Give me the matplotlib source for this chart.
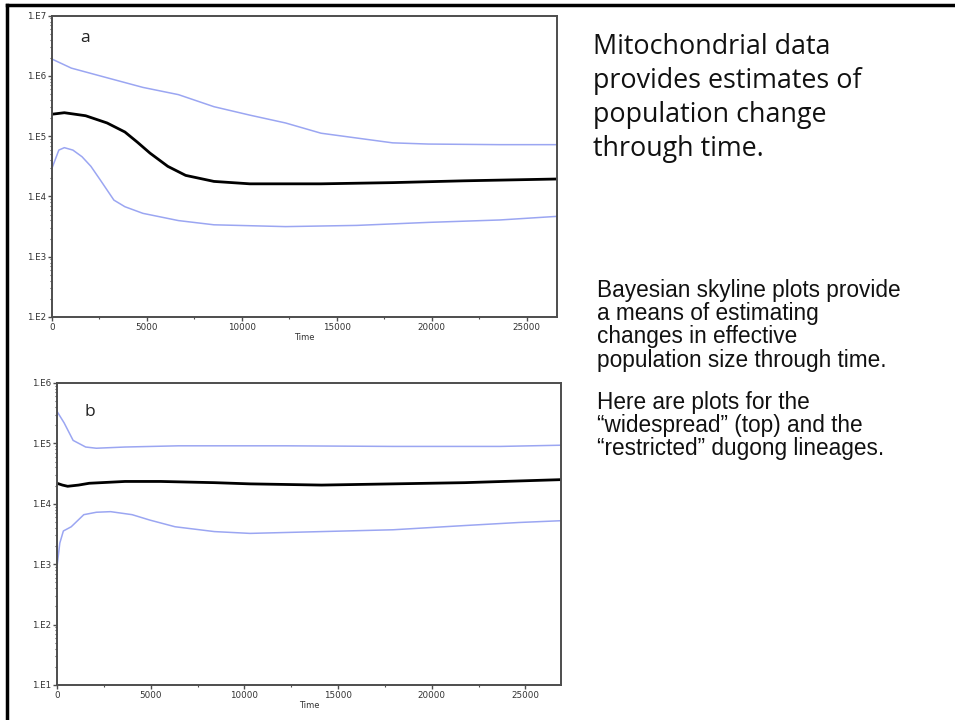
import matplotlib
matplotlib.use("Agg")
import matplotlib.pyplot as plt
import numpy as np
from matplotlib.ticker import FixedLocator, FuncFormatter, LogLocator, NullFormatter
from matplotlib.lines import Line2D

# ---------------- data (log10 of effective population size) ----------------
a_med_t = [0, 650, 1770, 2900, 3840, 4500, 5160, 6100, 7040, 8530, 10420, 14170, 17940, 21700, 26600]
a_med_log = [5.365, 5.39, 5.34, 5.22, 5.07, 4.90, 4.72, 4.50, 4.35, 4.25, 4.21, 4.21, 4.23, 4.26, 4.29]

a_up_t = [0, 1020, 2900, 4790, 6660, 8530, 10420, 12300, 14170, 16050, 17940, 19820, 23580, 26600]
a_up_log = [6.28, 6.13, 5.97, 5.81, 5.69, 5.49, 5.35, 5.22, 5.05, 4.97, 4.89, 4.87, 4.86, 4.86]

a_lo_t = [0, 360, 650, 1100, 1580, 2050, 2530, 3260, 3840, 4790, 6660, 8530, 12300, 16050, 19820, 23580, 26600]
a_lo_log = [4.47, 4.77, 4.81, 4.77, 4.66, 4.50, 4.28, 3.94, 3.83, 3.72, 3.60, 3.53, 3.50, 3.52, 3.57, 3.61, 3.67]

b_med_t = [0, 290, 570, 1150, 1720, 3630, 5530, 8400, 10300, 14120, 17940, 21760, 26900]
b_med_log = [4.34, 4.31, 4.29, 4.31, 4.34, 4.37, 4.37, 4.35, 4.33, 4.31, 4.33, 4.35, 4.40]

b_up_t = [0, 380, 860, 1530, 2100, 3630, 6490, 12210, 17940, 23660, 26900]
b_up_log = [5.53, 5.34, 5.05, 4.94, 4.92, 4.94, 4.96, 4.96, 4.95, 4.95, 4.97]

b_lo_t = [0, 150, 340, 760, 1430, 2100, 2860, 4010, 4960, 6300, 8400, 10300, 14120, 17940, 21760, 24620, 26900]
b_lo_log = [2.96, 3.35, 3.55, 3.62, 3.82, 3.86, 3.87, 3.82, 3.73, 3.62, 3.54, 3.51, 3.54, 3.57, 3.64, 3.69, 3.72]

x_ticks = [0, 5000, 10000, 15000, 20000, 25000]

title_lines = ["Mitochondrial data", "provides estimates of", "population change", "through time."]
body1 = ["Bayesian skyline plots provide", "a means of estimating", "changes in effective",
         "population size through time."]
body2 = ["Here are plots for the", "\u201cwidespread\u201d (top) and the", "\u201crestricted\u201d dugong lineages."]

# ---------------- figure ----------------
W, H = 955, 720
fig = plt.figure(figsize=(W / 100, H / 100), dpi=100)
fig.patch.set_facecolor("white")

BLUE = "#9ba6f2"
AXC = "#4d4d4d"


def fx(px):
    return px / W


def fy(py):
    return 1 - py / H


def style_axes(ax, ylo, yhi, xmax, label, label_y):
    ax.set_yscale("log")
    ax.set_ylim(10 ** ylo, 10 ** yhi)
    ax.set_xlim(0, xmax)
    ax.yaxis.set_major_locator(FixedLocator([10.0 ** e for e in range(ylo, yhi + 1)]))
    ax.yaxis.set_major_formatter(FuncFormatter(lambda v, p: "1.E%d" % int(round(np.log10(v)))))
    ax.yaxis.set_minor_locator(LogLocator(base=10, subs=np.arange(2, 10)))
    ax.yaxis.set_minor_formatter(NullFormatter())
    ax.xaxis.set_major_locator(FixedLocator(x_ticks))
    ax.xaxis.set_minor_locator(FixedLocator([t + 2500 for t in x_ticks]))
    ax.tick_params(axis="both", which="major", direction="out", length=3, width=1,
                   color=AXC, labelsize=6.3, labelcolor="#333333", pad=1)
    ax.tick_params(axis="both", which="minor", direction="out", length=1.5, width=0.8, color=AXC)
    for s in ax.spines.values():
        s.set_color(AXC)
        s.set_linewidth(1.4)
    ax.set_xlabel("Time", fontsize=6, color="#333333", labelpad=1)
    ax.text(0.055, label_y, label, transform=ax.transAxes, fontsize=12.5,
            family="Open Sans", color="#222222", va="center", ha="left")


# top panel
ax1 = fig.add_axes([fx(52), fy(317), fx(557) - fx(52), fy(15.7) - fy(317)])
ax1.plot(a_up_t, 10 ** np.array(a_up_log), color=BLUE, lw=1.1)
ax1.plot(a_lo_t, 10 ** np.array(a_lo_log), color=BLUE, lw=1.1)
ax1.plot(a_med_t, 10 ** np.array(a_med_log), color="black", lw=2.0)
style_axes(ax1, 2, 7, 26600, "a", 0.925)

# bottom panel
ax2 = fig.add_axes([fx(57), fy(685), fx(561) - fx(57), fy(383) - fy(685)])
ax2.plot(b_up_t, 10 ** np.array(b_up_log), color=BLUE, lw=1.1)
ax2.plot(b_lo_t, 10 ** np.array(b_lo_log), color=BLUE, lw=1.1)
ax2.plot(b_med_t, 10 ** np.array(b_med_log), color="black", lw=2.0)
style_axes(ax2, 1, 6, 26900, "b", 0.905)

# slide border (top and left)
fig.add_artist(Line2D([fx(7), 1.0], [fy(5), fy(5)], color="black", lw=2.5, transform=fig.transFigure))
fig.add_artist(Line2D([fx(7), fx(7)], [fy(5), 0.0], color="black", lw=2.5, transform=fig.transFigure))

# text on the right
fig.text(fx(593), fy(33), "\n".join(title_lines), fontsize=19.4, family="Open Sans",
         color="#111111", va="top", ha="left", linespacing=1.28)
fig.text(fx(597), fy(279), "\n".join(body1), fontsize=16.3, family="Liberation Sans",
         color="#111111", va="top", ha="left", linespacing=1.01)
fig.text(fx(597), fy(391), "\n".join(body2), fontsize=16.3, family="Liberation Sans",
         color="#111111", va="top", ha="left", linespacing=1.01)

fig.savefig("out.png", dpi=100, facecolor="white")
